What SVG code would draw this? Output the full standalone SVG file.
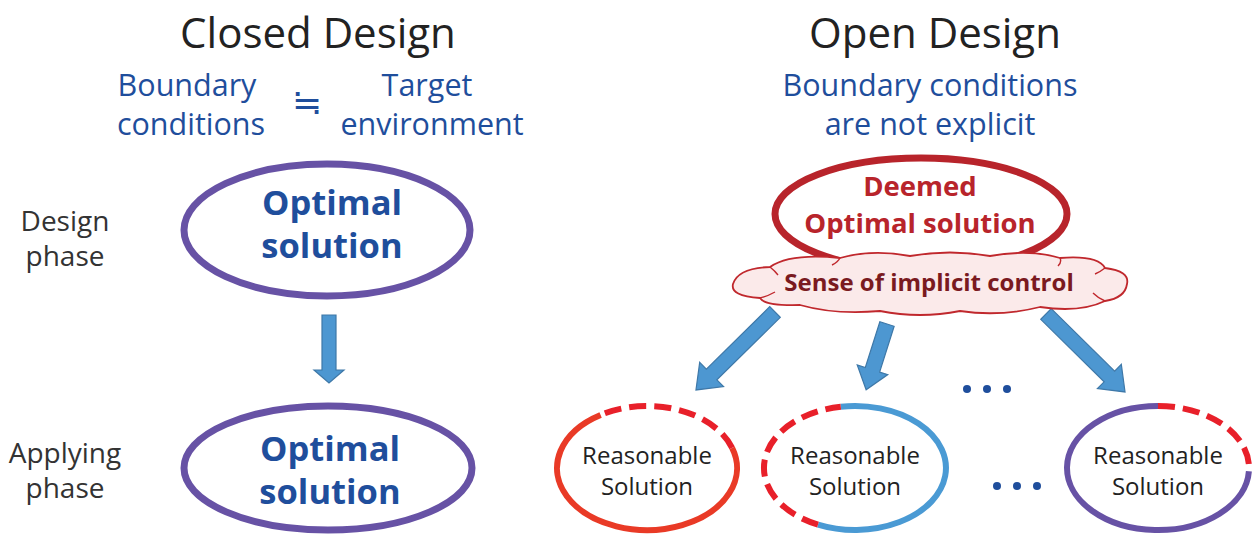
<svg xmlns="http://www.w3.org/2000/svg" width="1253" height="535" viewBox="0 0 1253 535">
<defs>
<style>
text{font-family:"Open Sans","Noto Sans",sans-serif;text-anchor:middle}
.title{font-size:42px;fill:#222}
.blue{font-size:30.5px;fill:#1f4e9c}
.phase{font-size:28px;fill:#333}
.opt{font-size:34.5px;font-weight:bold;fill:#1f4e9c}
.deem{font-size:27.5px;font-weight:bold;fill:#b8242b}
.sense{font-size:24px;font-weight:bold;fill:#7a1a1f}
.rs{font-size:24px;fill:#222}
.ell{fill:#fff;stroke:#6752a5;stroke-width:7}
.arr{fill:#4d97d1;stroke:#3e78a8;stroke-width:1.2}
.dash{fill:none;stroke:#e8202a;stroke-width:6;stroke-dasharray:17 8}
.dot{fill:#1f4e9c}
</style>
</defs>
<g id="titles">
<text class="title" x="318" y="48">Closed Design</text>
<text class="title" x="935" y="48">Open Design</text>
<text class="blue" x="187" y="96">Boundary</text>
<text class="blue" x="191" y="135">conditions</text>
<text x="307" y="115" style="font-family:'Noto Sans CJK JP',sans-serif;font-size:36px;fill:#1f4e9c">≒</text>
<text class="blue" x="427" y="96">Target</text>
<text class="blue" x="432" y="135">environment</text>
<text class="blue" x="930" y="96">Boundary conditions</text>
<text class="blue" x="930" y="135">are not explicit</text>
<text class="phase" x="65" y="231">Design</text>
<text class="phase" x="65" y="266">phase</text>
<text class="phase" x="65" y="463">Applying</text>
<text class="phase" x="65" y="498">phase</text>
</g>
<g id="connectors">
<polygon class="arr" points="322,315 336,315 336,370 344,370 329,383 314,370 322,370"/>
<g transform="translate(775,312) rotate(135.4)"><polygon class="arr" points="0,-7.5 89,-7.5 89,-17 111,0 89,17 89,7.5 0,7.5"/></g>
<g transform="translate(887,324) rotate(107.6)"><polygon class="arr" points="0,-7.5 48,-7.5 48,-16 69,0 48,16 48,7.5 0,7.5"/></g>
<g transform="translate(1046,314) rotate(44.6)"><polygon class="arr" points="0,-7.5 89,-7.5 89,-17 111,0 89,17 89,7.5 0,7.5"/></g>
</g>
<g id="design-optimal">
<ellipse class="ell" cx="327" cy="230" rx="143" ry="66"/>
<text class="opt" x="332" y="215">Optimal</text>
<text class="opt" x="332" y="258">solution</text>
</g>
<g id="apply-optimal">
<ellipse class="ell" cx="328" cy="468" rx="144" ry="62"/>
<text class="opt" x="330" y="461">Optimal</text>
<text class="opt" x="330" y="504">solution</text>
</g>
<g id="deemed-optimal">
<ellipse cx="921" cy="214" rx="146" ry="56" fill="#fff" stroke="#b8242b" stroke-width="7"/>
<text class="deem" x="920" y="196">Deemed</text>
<text class="deem" x="920" y="233">Optimal solution</text>
</g>
<g id="cloud">
<path d="M733,284 Q738,268 770,267 Q790,253 840,258 Q872,249 910,256 Q950,249 990,256 Q1030,249 1060,258 Q1098,255 1105,268 Q1130,271 1127,284 Q1125,298 1105,301 Q1080,313 1040,307 Q1000,317 960,311 Q920,319 880,311 Q835,315 800,305 Q765,306 760,298 Q730,296 733,284 Z" fill="#fbeaea" stroke="#c0282d" stroke-width="1.8"/>
<path d="M770,267 Q775,271 778,275 M840,258 Q838,262 832,265 M1060,258 Q1062,262 1058,266 M1105,268 Q1100,272 1095,274 M760,298 Q768,296 775,292 M1105,301 Q1098,298 1093,293" fill="none" stroke="#c0282d" stroke-width="1.4"/>
<text class="sense" x="929" y="291">Sense of implicit control</text>
</g>
<g id="reasonable-1">
<path d="M600.6,414.9 A90,62 0 1,0 732.1,447.8" fill="none" stroke="#e93a26" stroke-width="6"/>
<path class="dash" d="M732.1,447.8 A90,62 0 0,0 600.6,414.9"/>
<text class="rs" x="647" y="464">Reasonable</text>
<text class="rs" x="647" y="495">Solution</text>
</g>
<g id="reasonable-2">
<path d="M840.8,406.7 A91,62 0 1,1 818,524.6" fill="none" stroke="#4a9ad4" stroke-width="6"/>
<path class="dash" d="M818,524.6 A91,62 0 0,1 840.8,406.7"/>
<text class="rs" x="855" y="464">Reasonable</text>
<text class="rs" x="855" y="495">Solution</text>
</g>
<g id="reasonable-3">
<path d="M1248.9,471.2 A91,62 0 1,1 1158,406" fill="none" stroke="#6752a5" stroke-width="6"/>
<path class="dash" d="M1158,406 A91,62 0 0,1 1248.9,471.2"/>
<text class="rs" x="1158" y="464">Reasonable</text>
<text class="rs" x="1158" y="495">Solution</text>
</g>
<g id="ellipsis">
<circle class="dot" cx="967" cy="389" r="4"/>
<circle class="dot" cx="987" cy="389" r="4"/>
<circle class="dot" cx="1007" cy="389" r="4"/>
<circle class="dot" cx="997" cy="486" r="4"/>
<circle class="dot" cx="1017" cy="486" r="4"/>
<circle class="dot" cx="1037" cy="486" r="4"/>
</g>
</svg>
